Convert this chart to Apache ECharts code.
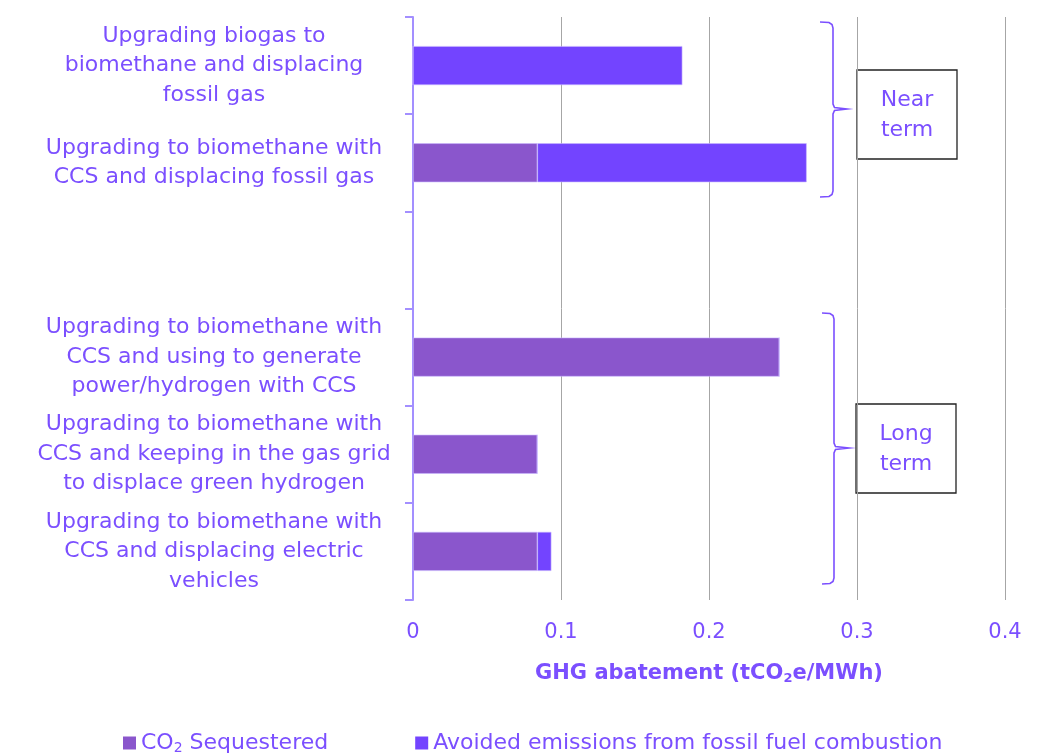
<!DOCTYPE html>
<html>
<head>
<meta charset="utf-8">
<script src="https://cdn.jsdelivr.net/npm/echarts@6/dist/echarts.min.js"></script>
<style>
  html, body { margin: 0; padding: 0; background: #fff; }
  #chart { width: 1059px; height: 753px; }
</style>
</head>
<body>
<div id="chart"></div>
<script>
// categories (empty one is the gap between near and long term)
const categories = [
  'Upgrading biogas to\nbiomethane and displacing\nfossil gas',
  'Upgrading to biomethane with\nCCS and displacing fossil gas',
  '',
  'Upgrading to biomethane with\nCCS and using to generate\npower/hydrogen with CCS',
  'Upgrading to biomethane with\nCCS and keeping in the gas grid\nto displace green hydrogen',
  'Upgrading to biomethane with\nCCS and displacing electric\nvehicles'
]
const co2Sequestered = [0, 0.084, null, 0.2475, 0.084, 0.084]
const avoidedEmissions = [0.182, 0.182, null, 0, 0, 0.0095]
const xTicks = [0, 0.1, 0.2, 0.3, 0.4]

const txt = '#7b4fff'
const font = '"DejaVu Sans", sans-serif'

// curly bracket as a polyline: x0 = open end, x1 = spine, tip = point
function bracket (x0, x1, tip, y0, ym, y1) {
  return [
    [x0, y0], [x1 - 4, y0 + 0.5], [x1 - 1, y0 + 2.5], [x1, y0 + 6],
    [x1, ym - 5], [x1 + 1.5, ym - 1.5], [tip, ym],
    [x1 + 1.5, ym + 1.5], [x1, ym + 5],
    [x1, y1 - 6], [x1 - 1, y1 - 2.5], [x1 - 4, y1 - 0.5], [x0, y1]
  ]
}

const chart = echarts.init(document.getElementById('chart'))
chart.setOption({
  animation: false,
  textStyle: { fontFamily: font },
  grid: { left: 413, right: 54, top: 17, bottom: 153 },
  legend: {
    left: 118,
    top: 727,
    itemWidth: 13,
    itemHeight: 13,
    itemGap: 87,
    icon: 'rect',
    itemStyle: { borderWidth: 0 },
    textStyle: {
      color: txt,
      fontSize: 22,
      fontFamily: font,
      rich: {
        a: { color: txt, fontSize: 22, fontFamily: font },
        s: { color: txt, fontSize: 14, fontFamily: font, verticalAlign: 'bottom', padding: [11, 0, 0, 0] }
      }
    },
    formatter: function (name) {
      if (name === 'CO2 Sequestered') return '{a|CO}{s|2}{a| Sequestered}'
      return name
    }
  },
  xAxis: {
    type: 'value',
    min: xTicks[0],
    max: xTicks[xTicks.length - 1],
    interval: 0.1,
    axisLine: { show: false },
    axisTick: { show: false },
    axisLabel: { color: txt, fontSize: 21, margin: 22 },
    splitLine: {
      show: true,
      lineStyle: { color: '#a6a6a6', width: 1 },
      showMinLine: false
    },
    name: '{b|GHG abatement (tCO}{s|2}{b|e/MWh)}',
    nameLocation: 'middle',
    nameGap: 62,
    nameTextStyle: {
      rich: {
        b: { color: txt, fontSize: 21, fontWeight: 'bold', fontFamily: font },
        s: { color: txt, fontSize: 13, fontWeight: 'bold', fontFamily: font, verticalAlign: 'bottom', padding: [10, 0, 0, 0] }
      }
    }
  },
  yAxis: {
    type: 'category',
    inverse: true,
    data: categories,
    axisLine: { show: true, lineStyle: { color: '#a38fff', width: 2 } },
    axisTick: { show: true, length: 8, lineStyle: { color: '#a38fff', width: 2 } },
    axisLabel: {
      color: txt,
      fontSize: 22,
      lineHeight: 29.5,
      align: 'center',
      margin: 199
    },
    splitLine: { show: false }
  },
  series: [
    {
      name: 'CO2 Sequestered',
      type: 'bar',
      stack: 'total',
      barWidth: 39,
      data: co2Sequestered,
      itemStyle: { color: '#8a56cc', borderColor: '#c9b8ff', borderWidth: 0.6 }
    },
    {
      name: 'Avoided emissions from fossil fuel combustion',
      type: 'bar',
      stack: 'total',
      barWidth: 39,
      data: avoidedEmissions,
      itemStyle: { color: '#7344ff', borderColor: '#c9b8ff', borderWidth: 0.6 }
    }
  ],
  graphic: [
    // near term bracket
    {
      type: 'polyline',
      shape: { points: bracket(820, 833, 847, 22, 109, 197) },
      style: { fill: null, stroke: '#7b4fff', lineWidth: 1.6 }
    },
    {
      type: 'rect',
      shape: { x: 857, y: 70, width: 100, height: 89 },
      style: { fill: '#fff', stroke: '#222', lineWidth: 1.3 }
    },
    {
      type: 'text',
      x: 907, y: 115,
      style: { text: 'Near\nterm', fill: txt, fontSize: 22, fontFamily: font, lineHeight: 30, align: 'center', verticalAlign: 'middle' }
    },
    // long term bracket
    {
      type: 'polyline',
      shape: { points: bracket(822, 834, 849, 313, 448, 584) },
      style: { fill: null, stroke: '#7b4fff', lineWidth: 1.6 }
    },
    {
      type: 'rect',
      shape: { x: 856, y: 404, width: 100, height: 89 },
      style: { fill: '#fff', stroke: '#222', lineWidth: 1.3 }
    },
    {
      type: 'text',
      x: 906, y: 449,
      style: { text: 'Long\nterm', fill: txt, fontSize: 22, fontFamily: font, lineHeight: 30, align: 'center', verticalAlign: 'middle' }
    }
  ]
})
</script>
</body>
</html>
